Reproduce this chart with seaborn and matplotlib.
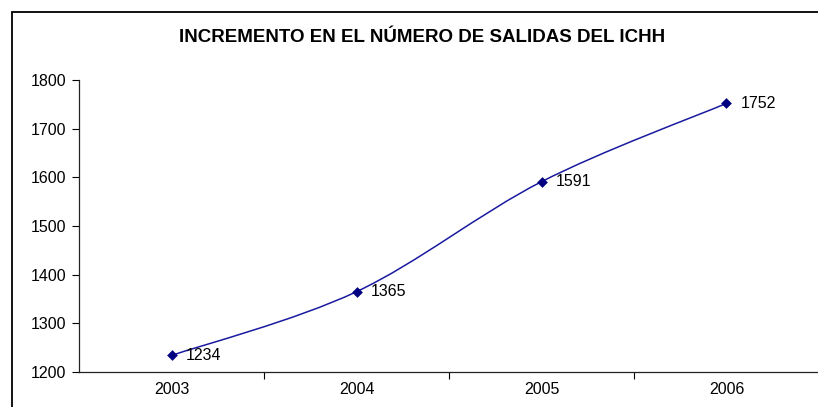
import numpy as np
import pandas as pd
import seaborn as sns
import matplotlib.pyplot as plt
from matplotlib.path import Path
from matplotlib.patches import PathPatch, Rectangle

# Data
years = ['2003', '2004', '2005', '2006']
salidas = [1234, 1365, 1591, 1752]
title = 'INCREMENTO EN EL NÚMERO DE SALIDAS DEL ICHH'

df = pd.DataFrame({'year': years, 'salidas': salidas})
df['pos'] = range(len(df))

sns.set_style('ticks')
plt.rcParams['font.family'] = ['Liberation Sans', 'DejaVu Sans']
plt.rcParams['text.color'] = 'black'
plt.rcParams['xtick.color'] = 'black'
plt.rcParams['ytick.color'] = 'black'
plt.rcParams['xtick.labelcolor'] = 'black'
plt.rcParams['ytick.labelcolor'] = 'black'

navy = '#000080'
fig = plt.figure(figsize=(8.18, 4.07), dpi=100)
ax = fig.add_axes([79 / 818, 35 / 407, 740 / 818, 292 / 407])

# Excel-style smoothed line (Catmull-Rom as cubic Bezier segments)
xs = df['pos'].to_numpy(dtype=float)
ys = df['salidas'].to_numpy(dtype=float)
px = np.concatenate([[xs[0]], xs, [xs[-1]]])
py = np.concatenate([[ys[0]], ys, [ys[-1]]])
verts = [(xs[0], ys[0])]
codes = [Path.MOVETO]
for i in range(1, len(xs)):
    c1 = (px[i] + (px[i + 1] - px[i - 1]) / 6, py[i] + (py[i + 1] - py[i - 1]) / 6)
    c2 = (px[i + 1] - (px[i + 2] - px[i]) / 6, py[i + 1] - (py[i + 2] - py[i]) / 6)
    verts += [c1, c2, (px[i + 1], py[i + 1])]
    codes += [Path.CURVE4] * 3
ax.add_patch(PathPatch(Path(verts, codes), fill=False, edgecolor='#1a1aa0', lw=1.1, zorder=2))

sns.scatterplot(data=df, x='pos', y='salidas', marker='D', s=30, color=navy,
                edgecolor=navy, linewidth=0, ax=ax, zorder=3)

for x, y in zip(df['pos'], df['salidas']):
    ax.annotate(str(y), (x, y), xytext=(10, 0), textcoords='offset points',
                va='center', ha='left', fontsize=11.5, color='black')

ax.set_xlim(-0.5, len(years) - 0.5)
ax.set_ylim(1200, 1800)
ax.set_yticks(range(1200, 1801, 100))
ax.set_xticks(np.arange(0.5, len(years) - 0.5, 1))
ax.set_xticklabels([])
ax.set_xticks(df['pos'], labels=years, minor=True)
ax.tick_params(axis='x', which='minor', length=0, pad=7, labelsize=11.5)
ax.tick_params(axis='x', which='major', length=5, width=0.8)
ax.tick_params(axis='y', length=5, width=0.8, pad=4, labelsize=11.5)
ax.set_xlabel('')
ax.set_ylabel('')
for side in ['top', 'right']:
    ax.spines[side].set_visible(False)
for side in ['left', 'bottom']:
    ax.spines[side].set_color('#222222')
    ax.spines[side].set_linewidth(0.9)

fig.text(0.516, 1 - 37 / 407, title, ha='center', va='center',
         fontsize=13.5, fontweight='bold', color='black')

# outer chart border (cropped on right and bottom)
fig.add_artist(Rectangle((11.5 / 818, -0.1), 2, 1 - 11.5 / 407 + 0.1,
                         transform=fig.transFigure, fill=False,
                         edgecolor='black', lw=1.3))

fig.savefig('out.png', dpi=100)
